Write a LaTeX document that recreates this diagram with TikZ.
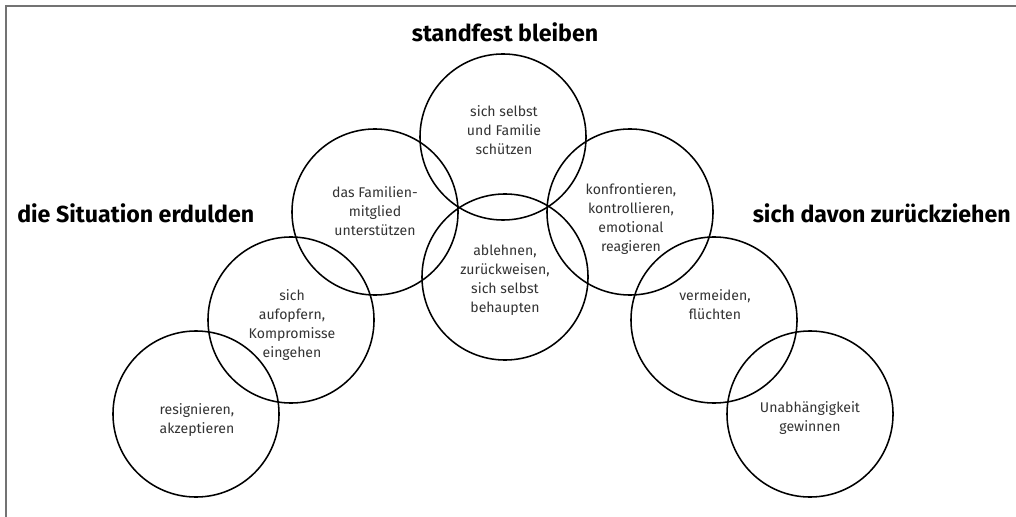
\documentclass[tikz,border=0pt]{standalone}
\usepackage{fontspec}
\setmainfont{Fira Sans}
\usepackage{tikz}

\begin{document}
\begin{tikzpicture}[x=0.025cm,y=-0.025cm,
	ring/.style={circle,draw=black,line width=1.1pt,minimum size=4.15cm,inner sep=0pt},
	txt/.style={align=center,text=black!80,font=\fontsize{10}{13.6}\selectfont},
	headline/.style={font=\fontsize{16.5}{18}\selectfont\bfseries,inner sep=0pt}]
	\useasboundingbox (0,0) rectangle (1016,517);
	\draw [black!55,line width=1.3pt] (6,517) -- (6,6) -- (1016,6);

	\node [headline,anchor=base] (h2) at (505,42) {standfest bleiben};
	\node [headline,anchor=base west] (h1) at (17,223) {die Situation erdulden};
	\node [headline,anchor=base east] (h3) at (1011,223) {sich davon zurückziehen};

	\node [ring] (r1) at (196,414) {};
	\node [ring] (r2) at (291,320) {};
	\node [ring] (r3) at (375,212) {};
	\node [ring] (r4) at (503,137) {};
	\node [ring] (r5) at (505,277) {};
	\node [ring] (r6) at (630,212) {};
	\node [ring] (r7) at (714,320) {};
	\node [ring] (r8) at (810,414) {};

	\node [txt] (t1) at (197,420) {resignieren,\\akzeptieren};
	\node [txt] (t2) at (292,325) {sich\\aufopfern,\\Kompromisse\\eingehen};
	\node [txt] (t3) at (375,211) {das Familien-\\mitglied\\unterstützen};
	\node [txt] (t4) at (504,130) {sich selbst\\und Familie\\schützen};
	\node [txt] (t5) at (505,280) {ablehnen,\\zurückweisen,\\sich selbst\\behaupten};
	\node [txt] (t6) at (631,219) {konfrontieren,\\kontrollieren,\\emotional\\reagieren};
	\node [txt] (t7) at (715,305) {vermeiden,\\flüchten};
	\node [txt] (t8) at (810,418) {Unabhängigkeit\\gewinnen};
\end{tikzpicture}
\end{document}
